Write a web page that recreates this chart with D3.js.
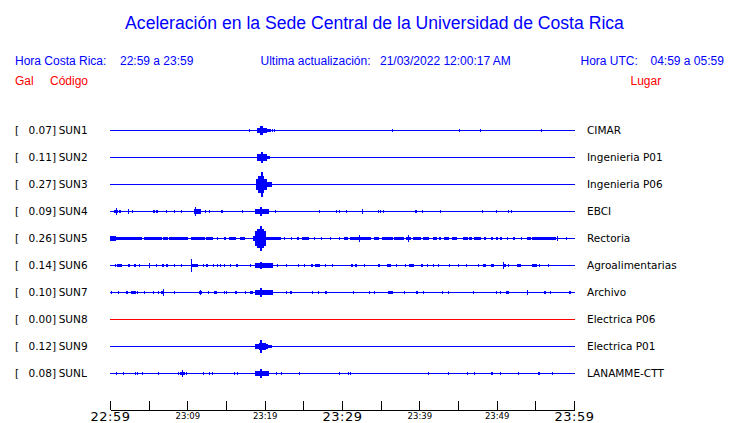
<!DOCTYPE html>
<html><head><meta charset="utf-8">
<script src="https://cdn.jsdelivr.net/npm/d3@7"></script>
<style>
html,body{margin:0;padding:0;background:#fff;}
svg{display:block;}
</style></head>
<body>
<svg id="chart" width="740" height="423"></svg>
<script>
// ---------------- DATA ----------------
const title = "Aceleración en la Sede Central de la Universidad de Costa Rica";
const horaCR = "22:59 a 23:59";
const horaUTC = "04:59 a 05:59";
const actualizacion = "21/03/2022 12:00:17 AM";

const stations = ["SUN1","SUN2","SUN3","SUN4","SUN5","SUN6","SUN7","SUN8","SUN9","SUNL"];
const peakGal  = [0.07, 0.11, 0.27, 0.09, 0.26, 0.14, 0.10, 0.00, 0.12, 0.08];
const places   = ["CIMAR","Ingenieria P01","Ingenieria P06","EBCI","Rectoria","Agroalimentarias","Archivo","Electrica P06","Electrica P01","LANAMME-CTT"];
const activeStation = [true,true,true,true,true,true,true,false,true,true];

// time axis: minutes after 22:59
const tickMinutes = [0,5,10,15,20,25,30,35,40,45,50,55,60];
const tickLabels  = ["22:59","","23:09","","23:19","","23:29","","23:39","","23:49","","23:59"];
const bigLabels   = ["22:59","23:29","23:59"];

// trace activity: [startMinute, endMinute, amplitude(counts)]
const sun1Events = [[18.01,18.01,3],[18.97,20.26,6],[19.46,19.72,12],[20.26,20.78,3],[20.91,20.91,3],[21.21,21.21,3],
  [36.47,36.47,3],[45.13,45.13,3],[47.84,47.84,3],[55.73,55.73,3]];
const sun2Events = [[18.97,20.26,8],[19.50,19.75,16],[20.26,20.69,3]];
const sun3Events = [[18.94,20.24,16],[19.14,19.91,24],[19.53,19.78,36],[20.24,20.91,6]];
const sun4Events = [[0.56,0.99,4],[0.73,0.77,10],[1.16,1.42,3],[2.37,2.49,7],[2.80,2.80,2],[5.51,5.51,2],[5.72,5.72,2],
  [5.94,6.15,4],[7.23,7.23,2],[8.26,8.43,3],[9.16,9.16,2],[10.88,11.83,5],[11.02,11.15,12],[12.26,12.26,3],[12.77,12.77,3],
  [14.41,14.67,4],[17.08,17.08,2],[18.80,20.52,6],[19.35,19.65,12],[21.38,21.38,2],[27.01,27.01,2],[29.20,29.20,3],
  [29.55,29.55,3],[30.58,30.58,2],[32.56,32.73,6],[34.71,34.71,3],[34.97,34.97,3],[35.27,35.27,3],[39.48,39.70,4],
  [40.30,40.30,2],[42.71,42.71,3],[48.04,48.26,4],[49.89,49.89,2],[51.53,51.53,3],[51.87,51.87,3]];
const sun5Events = [[0,0.77,7],[0.77,4.09,4],[4.39,5.81,4],[5.81,6.75,3],[6.88,7.44,4],[7.61,10.11,4],[10.45,12.26,3],
  [12.47,13.33,3],[13.85,13.85,2],[14.71,15.05,3],[15.40,16.34,4],[16.77,17.42,4],[18.49,18.80,6],[18.71,20.22,20],
  [19.05,19.90,28],[19.40,19.62,36],[20.22,22.15,4],[22.49,22.49,2],[23.44,23.44,2],[24.22,24.39,3],[24.86,25.68,3],
  [26.37,26.37,2],[27.31,27.31,2],[28.39,28.39,2],[29.59,29.59,2],[30.24,30.75,3],[30.97,33.76,4],[32.20,32.30,10],
  [34.19,34.84,4],[35.14,36.56,3],[36.77,38.06,3],[38.28,38.92,4],[38.55,38.62,8],[39.14,40.22,3],[40.43,41.29,3],
  [41.72,42.28,3],[42.58,42.80,3],[43.14,43.87,4],[44.22,44.86,4],[45.59,46.24,2],[46.45,46.80,3],[47.10,47.96,4],
  [48.30,48.60,3],[49.25,49.59,3],[49.89,50.11,2],[50.45,50.75,3],[51.40,51.53,2],[52.17,52.34,3],[53.12,53.33,3],
  [53.89,54.41,3],[54.62,57.63,4],[57.80,57.90,7],[58.92,58.92,3]];
const sun6Events = [[0.65,0.65,3],[0.95,1.51,3],[2.37,2.58,3],[3.14,3.31,3],[3.74,3.74,2],[5.08,5.08,5],[5.94,5.94,3],
  [6.75,6.92,2],[7.27,7.53,4],[8.34,8.34,3],[9.16,9.33,3],[10.45,11.40,4],[10.50,10.60,18],[12.09,12.09,3],[12.43,12.69,3],
  [13.29,13.46,3],[13.85,13.85,2],[14.19,14.19,3],[14.75,14.92,3],[15.48,15.48,3],[16.34,16.56,4],[18.11,18.28,3],
  [18.80,21.08,5],[19.35,19.65,10],[21.63,21.63,3],[22.80,22.80,2],[24.30,24.30,3],[25.08,25.08,2],[26.02,26.24,3],
  [26.45,27.10,4],[27.74,27.74,3],[28.73,28.73,3],[31.18,31.40,3],[31.70,31.91,3],[32.82,32.82,2],[34.62,34.97,3],
  [35.83,36.34,4],[36.99,36.99,2],[38.19,38.19,3],[38.71,39.35,4],[40.22,40.43,3],[40.99,40.99,3],[41.72,41.72,3],
  [42.37,42.37,3],[43.87,43.87,2],[44.95,44.95,2],[46.02,46.02,2],[47.53,47.53,3],[48.22,48.60,4],[49.25,49.68,4],
  [50.80,51.18,4],[50.85,50.95,8],[51.53,51.53,3],[52.60,53.12,4],[54.54,55.27,3],[55.48,55.48,2],[56.69,56.69,3]];
const sun7Events = [[0.13,0.13,3],[1.08,1.08,2],[2.02,2.28,3],[2.71,3.31,4],[3.44,3.44,3],[4.43,4.43,2],[5.59,5.59,2],
  [6.15,6.37,3],[6.58,6.92,4],[6.85,6.92,8],[8.26,8.26,3],[11.57,11.91,4],[11.70,11.78,7],[12.69,12.69,3],[13.46,13.89,4],
  [14.71,14.71,3],[15.05,15.05,2],[16.13,16.47,4],[17.42,17.42,3],[18.11,18.49,4],[18.71,21.08,6],[19.35,19.65,12],
  [22.80,22.80,3],[23.31,23.57,4],[26.11,26.24,3],[26.88,26.88,2],[27.74,28.09,4],[31.40,31.40,4],[33.55,33.55,2],
  [34.11,34.11,2],[35.91,36.60,4],[38.06,38.06,2],[39.57,39.78,4],[40.43,40.43,2],[42.88,42.88,3],[43.66,43.66,3],
  [46.88,47.10,4],[49.89,49.89,3],[50.45,50.45,3],[51.18,51.61,3],[53.98,53.98,6],[56.13,56.34,3],[56.90,56.90,3],
  [59.35,59.57,4]];
const sun8Events = [];
const sun9Events = [[18.80,20.43,6],[19.22,20.22,10],[19.40,19.65,17],[20.43,20.86,3],[20.78,20.78,2]];
const sunlEvents = [[0.73,0.73,3],[1.72,1.72,2],[3.23,3.23,3],[3.48,3.48,3],[4.17,4.17,2],[6.24,6.24,3],[8.73,8.73,3],
  [9.03,9.03,3],[9.16,9.68,4],[9.33,9.43,8],[9.89,9.89,3],[12.09,12.09,2],[12.82,12.82,3],[13.20,13.20,3],[16.04,16.04,3],
  [16.43,16.43,3],[18.71,18.71,2],[18.80,20.52,6],[19.35,19.65,12],[21.51,21.51,3],[22.06,22.06,3],[24.39,24.39,2],
  [29.59,29.59,3],[30.75,30.75,3],[31.01,31.01,2],[41.08,41.08,2],[43.66,43.66,3],[46.11,46.11,3],[47.10,47.10,3],
  [49.33,49.51,4],[50.37,50.37,3],[52.82,52.82,2],[55.35,55.61,4],[57.20,57.20,3]];

// ---------------- DRAW ----------------
const traces = [sun1Events,sun2Events,sun3Events,sun4Events,sun5Events,sun6Events,sun7Events,sun8Events,sun9Events,sunlEvents];

const svg = d3.select("#chart");
const BLUE = "#0000ff", RED = "#ff0000";
const headFont = "'Liberation Sans', Arial, Helvetica, sans-serif";
const labFont = "'DejaVu Sans', sans-serif";

const x = d3.scaleLinear().domain([0, 60]).range([110, 574]);
const y = d3.scalePoint().domain(stations).range([130, 373]);
const amp = d3.scaleLinear().domain([0, 36]).range([0, 12]);

// header
svg.append("text").attr("x", 374.5).attr("y", 29).attr("text-anchor", "middle")
  .attr("font-family", headFont).attr("font-size", 17.6).attr("fill", BLUE).text(title);

const hdr = [
  {t:"Hora Costa Rica:", x:15}, {t:horaCR, x:120},
  {t:"Ultima actualización:", x:260.5}, {t:actualizacion, x:380},
  {t:"Hora UTC:", x:580.5}, {t:horaUTC, x:650.5}
];
svg.selectAll("text.hdr").data(hdr).join("text").attr("class","hdr")
  .attr("x", d => d.x).attr("y", 65).attr("font-family", headFont).attr("font-size", 12)
  .attr("fill", BLUE).text(d => d.t);

const hdr2 = [{t:"Gal", x:15}, {t:"Código", x:50}, {t:"Lugar", x:630.5}];
svg.selectAll("text.hdr2").data(hdr2).join("text").attr("class","hdr2")
  .attr("x", d => d.x).attr("y", 85).attr("font-family", headFont).attr("font-size", 12)
  .attr("fill", RED).text(d => d.t);

// rows
const rows = svg.selectAll("g.row").data(stations).join("g").attr("class","row");

rows.append("text").attr("x", 15).attr("y", d => y(d) + 4)
  .attr("font-family", labFont).attr("font-size", 10.5).attr("fill", "#000").text("[");
rows.append("text").attr("x", 56).attr("y", d => y(d) + 4).attr("text-anchor","end")
  .attr("font-family", labFont).attr("font-size", 10.5).attr("fill", "#000")
  .text((d,i) => peakGal[i].toFixed(2) + "]");
rows.append("text").attr("x", 58.7).attr("y", d => y(d) + 4)
  .attr("font-family", labFont).attr("font-size", 10.5).attr("fill", "#000").text(d => d);
rows.append("text").attr("x", 587).attr("y", d => y(d) + 4)
  .attr("font-family", labFont).attr("font-size", 10.5).attr("fill", "#000")
  .text((d,i) => places[i]);

// baselines
rows.append("line")
  .attr("x1", x(0)).attr("x2", x(60) + 1)
  .attr("y1", d => y(d) + 0.5).attr("y2", d => y(d) + 0.5)
  .attr("stroke", (d,i) => activeStation[i] ? BLUE : RED).attr("stroke-width", 1)
  .attr("shape-rendering", "crispEdges");

// activity
rows.each(function(st, i) {
  const g = d3.select(this);
  g.selectAll("rect.ev").data(traces[i]).join("rect").attr("class","ev")
    .attr("x", d => Math.round(x(d[0])))
    .attr("width", d => Math.max(1, Math.round(x(d[1])) - Math.round(x(d[0]))))
    .attr("y", d => y(st) - Math.round(amp(d[2])))
    .attr("height", d => 2 * Math.round(amp(d[2])) + 1)
    .attr("fill", BLUE).attr("shape-rendering", "crispEdges");
});

// time axis
const axis = d3.axisBottom(x).tickValues(tickMinutes)
  .tickFormat((d,i) => tickLabels[i]).tickSizeInner(-9).tickSizeOuter(0).tickPadding(0);
const ag = svg.append("g").attr("transform", "translate(0,409.5)").call(axis);
ag.select(".domain").attr("stroke", "#000").attr("shape-rendering", "crispEdges");
ag.selectAll(".tick line").attr("stroke", "#000").attr("shape-rendering", "crispEdges");
ag.selectAll(".tick text")
  .attr("font-family", labFont).attr("fill", "#000")
  .attr("font-size", d => bigLabels.includes(tickLabels[tickMinutes.indexOf(d)]) ? 13 : 8.5)
  .attr("letter-spacing", d => bigLabels.includes(tickLabels[tickMinutes.indexOf(d)]) ? 0.5 : 0)
  .attr("dy", null)
  .attr("y", d => bigLabels.includes(tickLabels[tickMinutes.indexOf(d)]) ? 11.5 : 9);
</script>
</body></html>
